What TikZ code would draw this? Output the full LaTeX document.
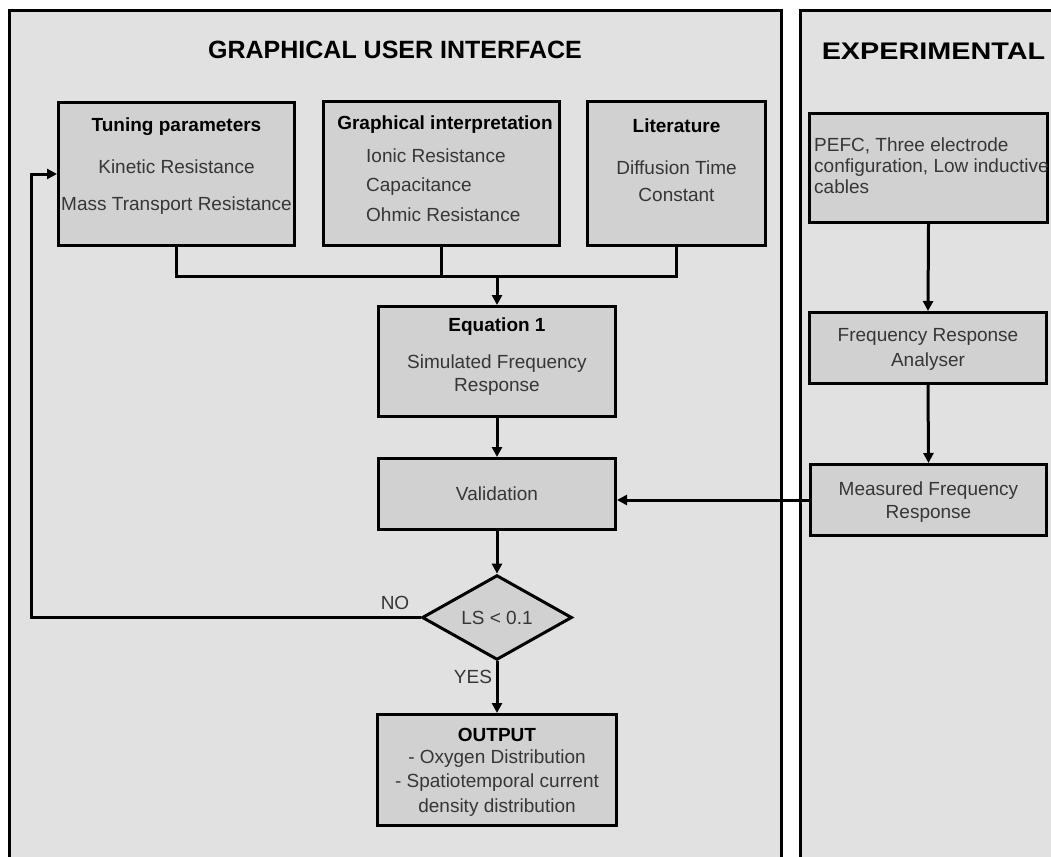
\documentclass[tikz,border=0pt]{standalone}
\usepackage{fontspec}
\setmainfont{Liberation Sans}
\usetikzlibrary{shapes.geometric,arrows.meta}
\definecolor{panelgray}{HTML}{E1E1E1}
\definecolor{boxgray}{HTML}{D1D1D1}
\definecolor{txtgray}{HTML}{363636}
\newcommand\myfs[1]{\fontsize{19}{#1}\selectfont}
\begin{document}
\begin{tikzpicture}[x=1pt,y=-1pt,
  panel/.style={draw=black,line width=3pt,fill=panelgray},
  box/.style={draw=black,line width=3pt,fill=boxgray,inner sep=0pt},
  dia/.style={shape=diamond,draw=black,line width=3pt,fill=boxgray,inner sep=0pt,text=txtgray,font=\myfs{23}},
  txt/.style={text=txtgray,inner sep=0pt},
  hd/.style={text=black,inner sep=0pt,font=\bfseries\myfs{23}},
  conn/.style={line width=3pt},
  arr/.style={line width=3pt,-{Triangle[length=10pt,width=10pt]}},
]
\useasboundingbox (0,0) rectangle (1051,856);
\clip (0,0) rectangle (1051,856);
\fill[white] (0,0) rectangle (1051,856);
% panels
\draw[panel] (9.5,10.5) rectangle (781,890);
\draw[panel] (800.5,10.5) rectangle (1090,890);
\node[inner sep=0pt,font=\bfseries\fontsize{25}{30}\selectfont] (t1) at (395,49.5) {GRAPHICAL USER INTERFACE};
\node[inner sep=0pt,font=\bfseries\fontsize{24}{29}\selectfont] (t2) at (933.5,51.5) {\scalebox{1.2}[1]{EXPERIMENTAL}};
% boxes
\node[box,minimum width=236pt,minimum height=143pt] (tun) at (176.5,174) {};
\node[box,minimum width=236pt,minimum height=143pt] (gra) at (441.5,173.5) {};
\node[box,minimum width=178pt,minimum height=143pt] (lit) at (676.5,173.5) {};
\node[box,minimum width=237pt,minimum height=110pt] (eq) at (497,361.5) {};
\node[box,minimum width=237pt,minimum height=71pt] (val) at (497,494) {};
\node[dia,minimum width=150pt,minimum height=81pt] (dec) at (497,617.5) {LS < 0.1};
\node[box,minimum width=239pt,minimum height=111pt] (out) at (497,770) {};
\node[box,minimum width=238pt,minimum height=109pt] (pefc) at (928.5,168) {};
\node[box,minimum width=237pt,minimum height=71pt] (fra) at (928,348) {};
\node[box,minimum width=236pt,minimum height=71pt] (meas) at (928.5,500) {};
% texts
\node[hd] (tunh) at (176.5,126.6) {Tuning parameters};
\node[txt,align=center,font=\myfs{37}] (tunt) at (176.5,187) {Kinetic Resistance\\Mass Transport Resistance};
\node[hd] (grah) at (445,124.6) {Graphical interpretation};
\node[txt,align=left,anchor=west,font=\myfs{29.5}] (grat) at (366,185) {Ionic Resistance\\Capacitance\\Ohmic Resistance};
\node[hd] (lith) at (676.5,126) {Literature};
\node[txt,align=center,font=\myfs{27}] (litt) at (676.5,181) {Diffusion Time\\Constant};
\node[hd] (eqh) at (497,326.6) {Equation 1};
\node[txt,align=center,font=\myfs{23}] (eqt) at (497,375) {Simulated Frequency\\Response};
\node[txt,font=\myfs{23}] (valt) at (val) {Validation};
\node[hd] (outh) at (497,735) {OUTPUT};
\node[txt,align=center,font=\myfs{24.5}] (outt) at (497,783) {- Oxygen Distribution\\- Spatiotemporal current\\density distribution};
\node[txt,align=left,anchor=west,font=\myfs{21}] (pefct) at (814,165.6) {PEFC, Three electrode\\configuration, Low inductive\\cables};
\node[txt,align=center,font=\myfs{25}] (frat) at (928,349) {Frequency Response\\Analyser};
\node[txt,align=center,font=\myfs{23}] (meast) at (928.5,502) {Measured Frequency\\Response};
\node[txt,font=\myfs{23}] (no) at (395,603) {NO};
\node[txt,font=\myfs{23}] (yes) at (473,677) {YES};
% connectors
\coordinate (bus) at (0,276);
\coordinate (lx) at (31,0);
\draw[conn] (tun.south) -- (tun.south |- bus) -- (lit.south |- bus) -- (lit.south);
\draw[conn] (gra.south) -- (gra.south |- bus);
\draw[arr] (eq.north |- bus) -- (eq.north);
\draw[arr] (eq.south) -- (val.north);
\draw[arr] (val.south) -- (dec.north);
\draw[arr] (dec.south) -- (out.north);
\draw[arr] (dec.west) -- (dec.west -| lx) |- (tun.west);
\draw[arr] (pefc.south) -- (fra.north);
\draw[arr] (fra.south) -- (meas.north);
\draw[arr] (meas.west) -- (meas.west -| val.east);
\end{tikzpicture}
\end{document}
